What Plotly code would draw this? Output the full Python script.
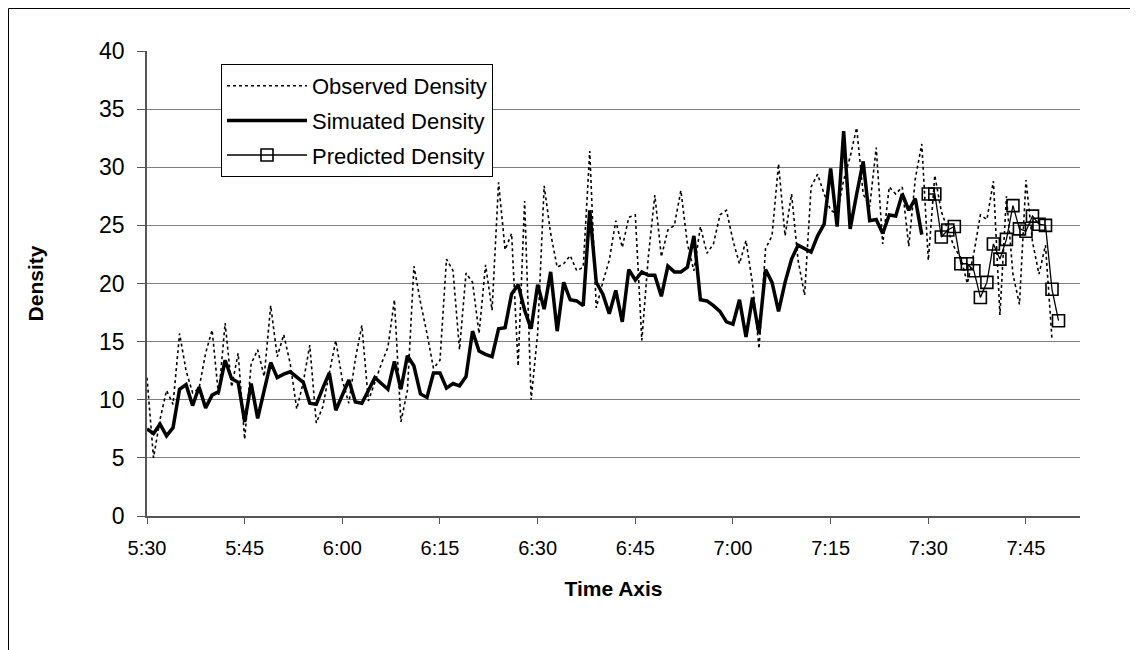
import pandas as pd
import plotly.graph_objects as go

start = pd.Timestamp("2000-01-01 05:30")

# Simulated density, one value per minute from 5:30 to 7:29
simulated = [
    7.5, 7.1, 7.9, 6.9, 7.6, 10.9, 11.3, 9.5, 11.1, 9.3,
    10.4, 10.7, 13.4, 11.8, 11.5, 8.1, 11.4, 8.4, 10.8, 13.2,
    11.9, 12.2, 12.4, 11.9, 11.5, 9.7, 9.6, 11.0, 12.3, 9.1,
    10.4, 11.7, 9.8, 9.7, 10.8, 11.9, 11.4, 10.9, 13.3, 10.9,
    13.8, 12.9, 10.5, 10.2, 12.3, 12.3, 11.0, 11.4, 11.2, 12.0,
    15.9, 14.2, 13.9, 13.7, 16.1, 16.2, 19.1, 19.9, 17.7, 16.1,
    19.9, 17.8, 21.0, 15.9, 20.1, 18.6, 18.5, 18.1, 26.3, 20.1,
    19.1, 17.4, 19.4, 16.7, 21.2, 20.3, 21.0, 20.7, 20.7, 18.9,
    21.5, 21.0, 21.0, 21.4, 24.1, 18.6, 18.5, 18.1, 17.6, 16.7,
    16.5, 18.6, 15.4, 18.8, 15.7, 21.2, 20.1, 17.6, 20.1, 22.1,
    23.3, 23.0, 22.7, 24.1, 25.1, 29.9, 24.9, 33.1, 24.7, 27.7,
    30.5, 25.4, 25.5, 24.3, 25.9, 25.8, 27.7, 26.3, 27.3, 24.2,
]

# Observed density, one value per minute from 5:30 to 7:49
observed = [
    11.9, 5.0, 8.3, 10.8, 9.6, 15.7, 12.5, 10.6, 11.0, 14.0,
    16.0, 10.3, 16.6, 11.1, 14.0, 6.6, 13.1, 14.3, 12.0, 18.1,
    13.7, 15.6, 13.1, 9.2, 11.5, 14.7, 8.0, 9.4, 12.3, 15.1,
    11.7, 9.7, 13.5, 16.4, 9.9, 11.5, 13.1, 14.5, 18.6, 8.1,
    10.8, 21.5, 18.4, 15.7, 12.7, 13.4, 22.1, 21.1, 14.3, 20.9,
    20.1, 15.7, 21.6, 17.7, 28.7, 22.9, 24.3, 12.9, 27.1, 10.0,
    15.7, 28.4, 24.3, 21.4, 21.7, 22.4, 21.1, 21.4, 31.4, 17.9,
    20.1, 22.0, 25.4, 23.1, 25.7, 25.9, 15.1, 22.3, 27.6, 22.3,
    24.6, 25.0, 28.0, 23.4, 21.1, 24.9, 22.6, 23.4, 25.9, 26.3,
    23.7, 21.7, 23.7, 20.0, 14.4, 23.0, 24.1, 30.3, 24.1, 27.7,
    22.0, 19.0, 28.3, 29.4, 27.7, 26.3, 26.0, 28.9, 30.9, 33.4,
    27.7, 26.6, 31.7, 23.4, 28.3, 27.7, 28.3, 23.2, 29.0, 32.0,
    22.0, 29.3, 26.2, 24.6, 23.1, 22.2, 20.0, 22.6, 25.9, 25.5,
    28.8, 17.3, 27.5, 20.8, 18.2, 28.9, 23.6, 20.8, 23.3, 15.2,
]

# Predicted density, one value per minute from 7:30 to 7:50
predicted = [
    27.7, 27.7, 24.0, 24.6, 24.9, 21.7, 21.7, 21.1, 18.8, 20.1,
    23.4, 22.1, 23.8, 26.7, 24.7, 24.5, 25.8, 25.1, 25.0, 19.5,
    16.8,
]

sim_start_min = 0
obs_start_min = 0
pred_start_min = 120

t_sim = [start + pd.Timedelta(minutes=sim_start_min + i) for i in range(len(simulated))]
t_obs = [start + pd.Timedelta(minutes=obs_start_min + i) for i in range(len(observed))]
t_pred = [start + pd.Timedelta(minutes=pred_start_min + i) for i in range(len(predicted))]

y_ticks = [0, 5, 10, 15, 20, 25, 30, 35, 40]

FONT = "Liberation Sans, Arial, sans-serif"

ML, MR, MT, MB = 139, 66, 43, 142
W, H = 1138, 650
PW, PH = W - ML - MR, H - MT - MB

fig = go.Figure()
fig.add_trace(go.Scatter(
    x=t_obs, y=observed, mode="lines", name="Observed Density",
    line=dict(color="black", width=1.6, dash="3px,3px"),
    legendgroup="a",
))
fig.add_trace(go.Scatter(
    x=t_sim, y=simulated, mode="lines", name="Simuated Density",
    line=dict(color="black", width=3.5),
    legendgroup="b",
))
fig.add_trace(go.Scatter(
    x=t_pred, y=predicted, mode="lines+markers", name="Predicted Density",
    line=dict(color="black", width=1.3),
    marker=dict(symbol="square-open", size=12, color="black", line=dict(width=1.6, color="black")),
    legendgroup="c",
))

x_end = start + pd.Timedelta(minutes=143.3)

fig.update_layout(
    width=W, height=H,
    margin=dict(l=ML, r=MR, t=MT, b=MB),
    paper_bgcolor="white", plot_bgcolor="white",
    font=dict(family=FONT, color="black"),
    showlegend=True,
    legend=dict(
        x=(213 - ML) / PW, y=(508 - 56) / PH, xanchor="left", yanchor="top",
        bgcolor="white", bordercolor="black", borderwidth=1,
        font=dict(family=FONT, size=22, color="black"),
        itemwidth=80, tracegroupgap=3, traceorder="grouped",
    ),
    xaxis=dict(
        type="date",
        range=[start, x_end],
        tick0=start, dtick=15 * 60 * 1000,
        tickformat="%-H:%M",
        ticks="outside", ticklen=6, tickcolor="#555555",
        ticklabelstandoff=7,
        showline=True, linecolor="#555555", linewidth=1.5,
        showgrid=False, zeroline=False,
        tickfont=dict(family=FONT, size=20, color="black"),
        title=dict(text="<b>Time Axis</b>", font=dict(family=FONT, size=21, color="black"), standoff=24),
    ),
    yaxis=dict(
        range=[0, 40], tickvals=y_ticks,
        ticks="outside", ticklen=8, tickcolor="#555555",
        ticklabelstandoff=8,
        showline=True, linecolor="#555555", linewidth=1.5,
        showgrid=True, gridcolor="#7f7f7f", gridwidth=1,
        zeroline=False,
        tickfont=dict(family=FONT, size=23, color="black"),
        title=dict(text="<b>Density</b>", font=dict(family=FONT, size=21, color="black"), standoff=50),
    ),
    shapes=[dict(
        type="rect", xref="paper", yref="paper",
        x0=(0.5 - ML) / PW, x1=(1129 - ML) / PW,
        y0=-0.5, y1=(H - MB - 0.5) / PH,
        line=dict(color="black", width=1), fillcolor="rgba(0,0,0,0)", layer="below",
    )],
)

fig.write_html("out.html")
